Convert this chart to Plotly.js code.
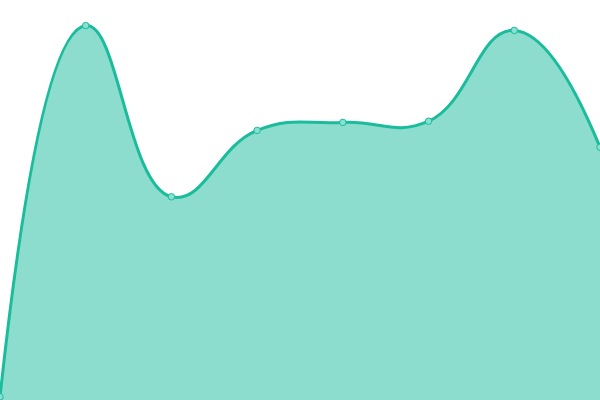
<!DOCTYPE html>
<html lang="en">
<head>
    <meta charset="UTF-8">
    <title>Area chart</title>
    <script src="https://cdn.plot.ly/plotly-3.0.1.min.js"></script>
    <style>
        html, body { margin: 0; padding: 0; background: #fff; }
        #chart { width: 600px; height: 400px; }
    </style>
</head>
<body>
<div id="chart"></div>
<script>
    // Data
    var xValues = [0, 1, 2, 3, 4, 5, 6, 7];
    var yValues = [0.8, 93.6, 50.8, 67.4, 69.4, 69.7, 92.4, 63.2];

    var trace = {
        type: 'scatter',
        mode: 'lines+markers',
        x: xValues,
        y: yValues,
        fill: 'tozeroy',
        fillcolor: 'rgba(26, 188, 156, 0.5)',
        line: { color: '#1abc9c', width: 3, shape: 'spline', smoothing: 1.3 },
        marker: { size: 6.5, color: '#8ae0d0', line: { color: '#1abc9c', width: 1 } },
        hoverinfo: 'none'
    };

    var layout = {
        width: 600,
        height: 400,
        margin: { l: 0, r: 0, t: 0, b: 0 },
        paper_bgcolor: '#fff',
        plot_bgcolor: '#fff',
        showlegend: false,
        xaxis: { range: [0, 7], visible: false, fixedrange: true },
        yaxis: { range: [0, 100], visible: false, fixedrange: true }
    };

    Plotly.newPlot('chart', [trace], layout, { displayModeBar: false, staticPlot: true });
</script>
</body>
</html>
